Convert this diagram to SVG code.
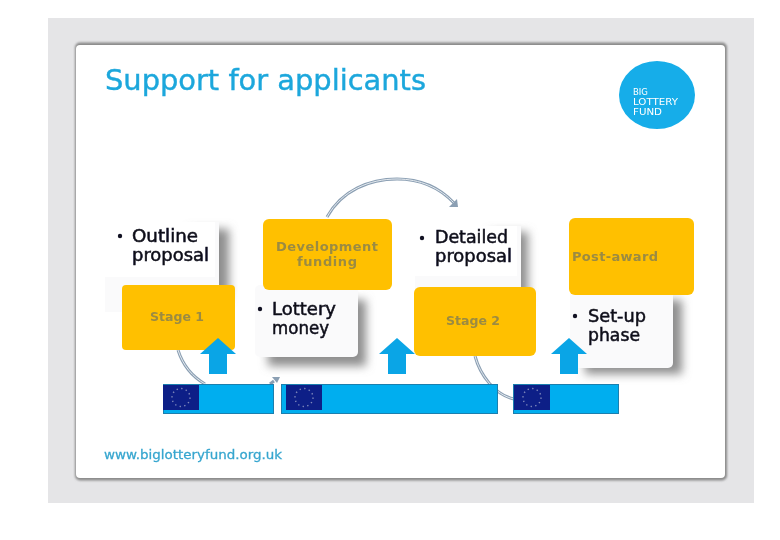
<svg xmlns="http://www.w3.org/2000/svg" width="780" height="540" viewBox="0 0 780 540">
<style>
text{font-family:"DejaVu Sans","Liberation Sans",sans-serif}
.org{fill:#ffc000}
.bar{fill:#00aeef;stroke:#1b7fae;stroke-width:1}
.arr{fill:#0aa5e6}
.flag{fill:#0d1f87}
.star{fill:none;stroke:#7f88bb;stroke-width:1.4;stroke-dasharray:1.4 3.3}
.lbl{font-size:13px;font-weight:bold;fill:#9b8b42;text-anchor:middle}
.body{font-size:17px;fill:#0b0b1a;stroke:#0b0b1a;stroke-width:.5}
.dot{fill:#111122}
.box{fill:#fafafb}
.sh{fill:#8e8e8e;filter:url(#b)}
.arc{fill:none;stroke:#8b9fb3;stroke-width:3}
.arcl{fill:none;stroke:#e6ebf0;stroke-width:1}
</style>
<defs>
<filter id="b" x="-30%" y="-30%" width="160%" height="160%"><feGaussianBlur stdDeviation="5"/></filter>
<filter id="s" x="-5%" y="-5%" width="110%" height="110%"><feGaussianBlur stdDeviation="1"/></filter>
<filter id="t" x="-5%" y="-20%" width="110%" height="140%"><feGaussianBlur stdDeviation="0.35"/></filter>
<g id="upa"><path class="arr" d="M0 0L18 16H9V36H-9V16H-18Z"/></g>
<g id="eu"><rect class="flag" width="36" height="25"/><circle class="star" cx="18" cy="12.5" r="9"/></g>
</defs>
<rect width="780" height="540" fill="#fff"/>
<rect x="48" y="18" width="706" height="485" fill="#e5e5e7"/>
<g id="slide">
<rect x="75" y="42.500" width="652" height="438" rx="5" fill="#8a8a8a" filter="url(#s)"/>
<rect x="76" y="45" width="649" height="433" rx="4" fill="#fff"/>
</g>
<g id="title"><text x="105" y="90" font-size="28" fill="#1ca7dc" stroke="#1ca7dc" stroke-width=".4" textLength="321" lengthAdjust="spacingAndGlyphs" filter="url(#t)">Support for applicants</text></g>
<g id="logo">
<ellipse cx="657" cy="95" rx="38" ry="34" fill="#14ade9" filter="url(#t)"/>
<g font-size="8.500" fill="#fff" filter="url(#t)">
<text x="633" y="95" textLength="15" lengthAdjust="spacingAndGlyphs">BIG</text>
<text x="633" y="105" textLength="45" lengthAdjust="spacingAndGlyphs">LOTTERY</text>
<text x="633" y="115" textLength="29" lengthAdjust="spacingAndGlyphs">FUND</text>
</g>
</g>
<g id="connectors">
<path class="arc" d="M327 217C342 190 370 179 397 179C420 179 440 188 454 203"/>
<path class="arcl" d="M327 217C342 190 370 179 397 179C420 179 440 188 454 203"/>
<path d="M449 207L458 207L457 199Z" fill="#8b9fb3"/>
<path class="arc" d="M178 350C183 366 193 377 205 384"/>
<path class="arcl" d="M178 350C183 366 193 377 205 384"/>
<path d="M270 384L274 381" stroke="#8b9fb3" stroke-width="3" fill="none"/>
<path d="M272 377L280 377L277 383Z" fill="#8b9fb3"/>
<path class="arc" d="M475 356C480 375 495 395 514 399"/>
<path class="arcl" d="M475 356C480 375 495 395 514 399"/>
</g>
<g id="outline-proposal">
<rect class="sh" x="190" y="229" width="39" height="70"/>
<rect class="box" x="105" y="222" width="114" height="90"/>
<rect x="105" y="222" width="110" height="55" fill="#fff"/>
<circle class="dot" cx="120" cy="236" r="2.2"/>
<text class="body" filter="url(#t)"><tspan x="132" y="242" textLength="66" lengthAdjust="spacingAndGlyphs">Outline</tspan><tspan x="132" y="261" textLength="77" lengthAdjust="spacingAndGlyphs">proposal</tspan></text>
</g>
<g id="lottery-money">
<rect class="sh" x="268" y="300" width="98" height="66"/>
<rect class="box" x="255" y="285" width="103" height="72" rx="5"/>
<circle class="dot" cx="260" cy="309" r="2.2"/>
<text class="body" filter="url(#t)"><tspan x="272" y="315" textLength="64" lengthAdjust="spacingAndGlyphs">Lottery</tspan><tspan x="272" y="334" textLength="57" lengthAdjust="spacingAndGlyphs">money</tspan></text>
</g>
<g id="detailed-proposal">
<rect class="sh" x="490" y="232" width="38" height="70"/>
<rect class="box" x="415" y="226" width="106" height="80"/>
<rect x="415" y="226" width="102" height="50" fill="#fff"/>
<circle class="dot" cx="422" cy="238" r="2.2"/>
<text class="body" filter="url(#t)"><tspan x="435" y="243" textLength="73" lengthAdjust="spacingAndGlyphs">Detailed</tspan><tspan x="435" y="262" textLength="77" lengthAdjust="spacingAndGlyphs">proposal</tspan></text>
</g>
<g id="setup-phase">
<rect class="sh" x="585" y="300" width="97" height="74"/>
<rect class="box" x="570" y="290" width="103" height="78" rx="5"/>
<circle class="dot" cx="575" cy="316" r="2.2"/>
<text class="body" filter="url(#t)"><tspan x="588" y="322" textLength="58" lengthAdjust="spacingAndGlyphs">Set-up</tspan><tspan x="588" y="341" textLength="52" lengthAdjust="spacingAndGlyphs">phase</tspan></text>
</g>
<g id="stage-1">
<rect class="org" x="122" y="285" width="113" height="65" rx="4"/>
<text class="lbl" x="177" y="321" textLength="54" lengthAdjust="spacingAndGlyphs" filter="url(#t)">Stage 1</text>
</g>
<g id="development-funding">
<rect class="org" x="263" y="219" width="129" height="71" rx="6"/>
<text class="lbl" filter="url(#t)"><tspan x="327" y="251" textLength="102" lengthAdjust="spacing">Development</tspan><tspan x="327" y="266" textLength="60" lengthAdjust="spacing">funding</tspan></text>
</g>
<g id="stage-2">
<rect class="org" x="414" y="287" width="122" height="69" rx="6"/>
<text class="lbl" x="473" y="325" textLength="54" lengthAdjust="spacingAndGlyphs" filter="url(#t)">Stage 2</text>
</g>
<g id="post-award">
<rect class="org" x="569" y="218" width="125" height="77" rx="6"/>
<text class="lbl" x="615" y="261" textLength="86" lengthAdjust="spacing" filter="url(#t)">Post-award</text>
</g>
<g id="arrow-1"><use href="#upa" x="218" y="338"/></g>
<g id="arrow-2"><use href="#upa" x="397" y="338"/></g>
<g id="arrow-3"><use href="#upa" x="569" y="338"/></g>
<g id="bar-1"><rect class="bar" x="163.500" y="384.500" width="110" height="29"/><use href="#eu" x="163" y="385"/></g>
<g id="bar-2"><rect class="bar" x="281.500" y="384.500" width="216" height="29"/><use href="#eu" x="286" y="385"/></g>
<g id="bar-3"><rect class="bar" x="513.500" y="384.500" width="105" height="29"/><use href="#eu" x="514" y="385"/></g>
<g id="footer"><text x="104" y="459" font-size="13" fill="#37a6cf" stroke="#37a6cf" stroke-width=".3" textLength="178" lengthAdjust="spacingAndGlyphs" filter="url(#t)">www.biglotteryfund.org.uk</text></g>
</svg>
